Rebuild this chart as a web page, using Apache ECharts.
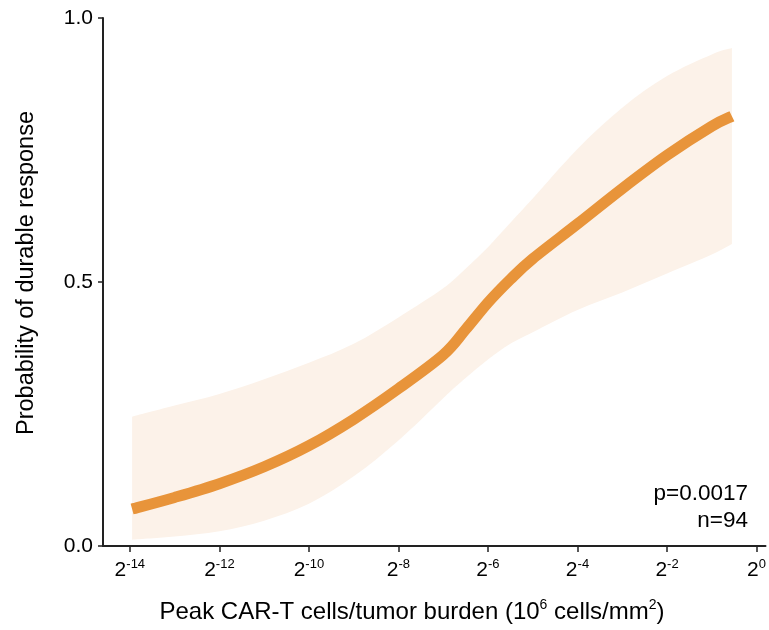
<!DOCTYPE html>
<html>
<head>
<meta charset="utf-8">
<script src="https://cdn.jsdelivr.net/npm/echarts@6/dist/echarts.min.js"></script>
<style>
html,body{margin:0;padding:0;background:#fff;}
#chart{width:769px;height:630px;}
</style>
</head>
<body>
<div id="chart"></div>
<script>
// log2 of peak CAR-T cells / tumor burden
const xLog2 = [-13.95, -13, -12, -11, -10, -9, -8, -7, -6.5, -6, -5.5, -5, -4, -3, -2, -1, -0.55];
// fitted probability of durable response
const fitProb = [0.070, 0.092, 0.118, 0.150, 0.190, 0.240, 0.298, 0.362, 0.410, 0.461, 0.505, 0.544, 0.610, 0.677, 0.740, 0.795, 0.814];
// confidence band
const ciLower = [0.012, 0.018, 0.028, 0.048, 0.080, 0.132, 0.200, 0.280, 0.318, 0.353, 0.383, 0.405, 0.447, 0.480, 0.516, 0.552, 0.572];
const ciUpper = [0.245, 0.266, 0.288, 0.316, 0.347, 0.383, 0.433, 0.488, 0.525, 0.566, 0.612, 0.658, 0.752, 0.830, 0.890, 0.931, 0.943];
// x tick exponents (labels 2^k)
const xTickExponents = [-14, -12, -10, -8, -6, -4, -2, 0];
const yTicks = [0, 0.5, 1];
const annotations = ['p=0.0017', 'n=94'];
const xTitle = ['Peak CAR-T cells/tumor burden (10', '6', ' cells/mm', '2', ')'];
const yTitle = 'Probability of durable response';

const FONT = '"Liberation Sans", Arial, sans-serif';
const chart = echarts.init(document.getElementById('chart'), null, {renderer: 'canvas'});

function bezierThrough(pts, startCmd) {
  let d = (startCmd ? 'M' : 'L') + pts[0][0] + ' ' + pts[0][1];
  for (let i = 0; i < pts.length - 1; i++) {
    const p0 = pts[Math.max(0, i - 1)], p1 = pts[i], p2 = pts[i + 1], p3 = pts[Math.min(pts.length - 1, i + 2)];
    const c1 = [p1[0] + (p2[0] - p0[0]) / 6, p1[1] + (p2[1] - p0[1]) / 6];
    const c2 = [p2[0] - (p3[0] - p1[0]) / 6, p2[1] - (p3[1] - p1[1]) / 6];
    d += 'C' + c1[0] + ' ' + c1[1] + ' ' + c2[0] + ' ' + c2[1] + ' ' + p2[0] + ' ' + p2[1];
  }
  return d;
}

const option = {
  animation: false,
  backgroundColor: '#fff',
  grid: {left: 103, right: 0, top: 18, bottom: 84},
  xAxis: {
    type: 'value',
    min: -14.6,
    max: 0.2,
    splitLine: {show: false},
    axisLine: {show: true, onZero: false, lineStyle: {color: '#222', width: 2}},
    axisTick: {show: true, length: 6, lineStyle: {color: '#222', width: 1.5}, customValues: xTickExponents},
    axisLabel: {
      customValues: xTickExponents,
      margin: 12,
      formatter: function (v) { return '{b|2}{s|' + v + '}'; },
      rich: {
        b: {fontSize: 21, fontFamily: FONT, color: '#000', lineHeight: 24},
        s: {fontSize: 13, fontFamily: FONT, color: '#000', lineHeight: 13, verticalAlign: 'top'}
      }
    }
  },
  yAxis: {
    type: 'value',
    min: yTicks[0],
    max: yTicks[yTicks.length - 1],
    interval: yTicks[1] - yTicks[0],
    splitLine: {show: false},
    axisLine: {show: true, onZero: false, lineStyle: {color: '#222', width: 2}},
    axisTick: {show: true, length: 5, lineStyle: {color: '#222', width: 1.5}},
    axisLabel: {
      margin: 10,
      fontSize: 21,
      fontFamily: FONT,
      color: '#000',
      formatter: function (v) { return v.toFixed(1); }
    }
  },
  series: [
    {
      name: 'band',
      type: 'custom',
      data: [[xLog2[0], ciLower[0]]],
      silent: true,
      z: 1,
      renderItem: function (params, api) {
        const up = xLog2.map((x, i) => api.coord([x, ciUpper[i]]));
        const lo = xLog2.map((x, i) => api.coord([x, ciLower[i]])).reverse();
        const d = bezierThrough(up, true) + bezierThrough(lo, false) + 'Z';
        return {
          type: 'path',
          shape: {pathData: d},
          style: {fill: '#FCF2E9', stroke: null}
        };
      }
    },
    {
      name: 'fit',
      type: 'custom',
      data: [[xLog2[0], fitProb[0]]],
      silent: true,
      z: 3,
      renderItem: function (params, api) {
        const pts = xLog2.map((x, i) => api.coord([x, fitProb[i]]));
        return {
          type: 'path',
          shape: {pathData: bezierThrough(pts, true)},
          style: {fill: null, stroke: '#E8943A', lineWidth: 11, lineCap: 'butt', lineJoin: 'round'}
        };
      }
    }
  ],
  graphic: [
    {
      type: 'text',
      x: 412,
      y: 612,
      z: 10,
      style: {
        text: '{n|' + xTitle[0] + '}{s|' + xTitle[1] + '}{n|' + xTitle[2] + '}{s|' + xTitle[3] + '}{n|' + xTitle[4] + '}',
        align: 'center',
        verticalAlign: 'middle',
        rich: {
          n: {fontSize: 24, fontFamily: FONT, fill: '#000', lineHeight: 28},
          s: {fontSize: 14, fontFamily: FONT, fill: '#000', lineHeight: 14, verticalAlign: 'top'}
        }
      }
    },
    {
      type: 'text',
      x: 27,
      y: 273,
      z: 10,
      rotation: Math.PI / 2,
      style: {
        text: yTitle,
        fontSize: 23.5,
        fontFamily: FONT,
        fill: '#000',
        align: 'center',
        verticalAlign: 'middle'
      }
    },
    {
      type: 'text',
      x: 748,
      y: 494,
      z: 10,
      style: {text: annotations[0], fontSize: 22.5, fontFamily: FONT, fill: '#000', align: 'right', verticalAlign: 'middle'}
    },
    {
      type: 'text',
      x: 748,
      y: 521,
      z: 10,
      style: {text: annotations[1], fontSize: 22.5, fontFamily: FONT, fill: '#000', align: 'right', verticalAlign: 'middle'}
    }
  ]
};
chart.setOption(option);
</script>
</body>
</html>
